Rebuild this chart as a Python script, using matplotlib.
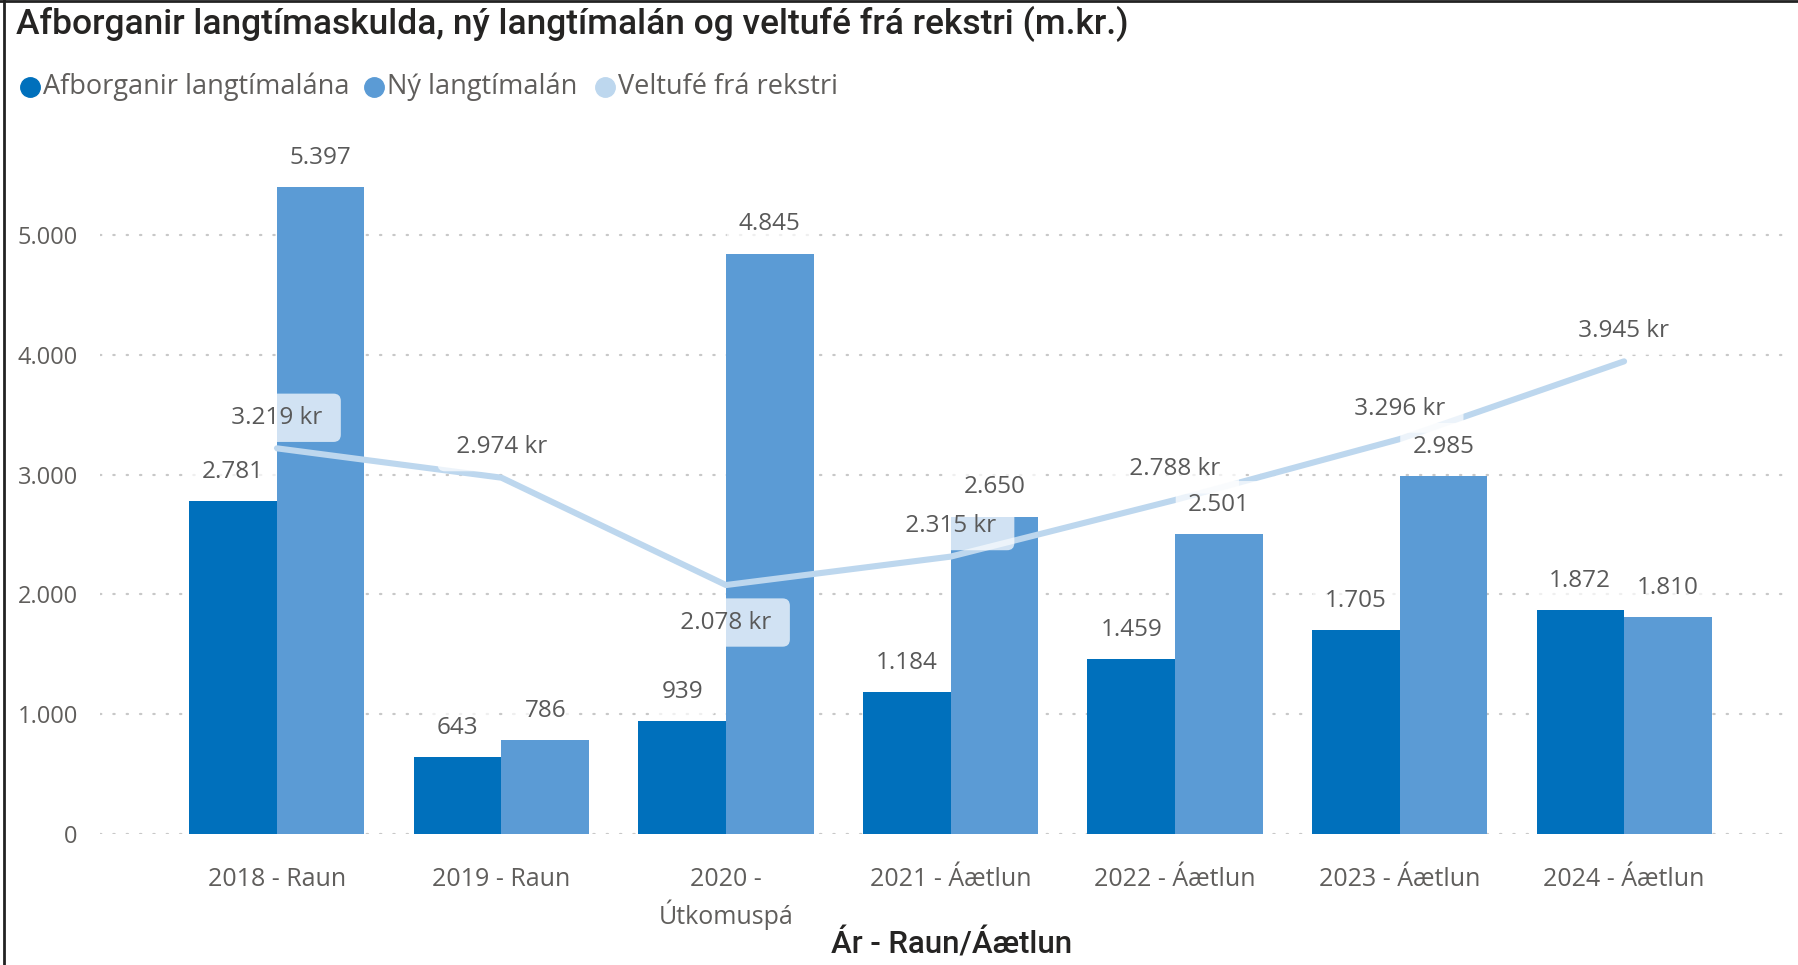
import matplotlib
matplotlib.use("Agg")
import matplotlib.pyplot as plt
from matplotlib import font_manager
from matplotlib.lines import Line2D
import numpy as np

categories = ["2018 - Raun", "2019 - Raun", "2020 -\nÚtkomuspá", "2021 - Áætlun",
              "2022 - Áætlun", "2023 - Áætlun", "2024 - Áætlun"]
afborganir = [2781, 643, 939, 1184, 1459, 1705, 1872]
ny_lan = [5397, 786, 4845, 2650, 2501, 2985, 1810]
veltufe = [3219, 2974, 2078, 2315, 2788, 3296, 3945]
series_names = ["Afborganir langtímalána", "Ný langtímalán", "Veltufé frá rekstri"]
yticks = [0, 1000, 2000, 3000, 4000, 5000]
title = "Afborganir langtímaskulda, ný langtímalán og veltufé frá rekstri (m.kr.)"
xlabel = "Ár - Raun/Áætlun"

c_dark = "#0070BC"
c_mid = "#5B9BD5"
c_light = "#BDD7EE"
c_text = "#605E5C"
c_label = "#595959"
c_title = "#252423"

installed = {f.name for f in font_manager.fontManager.ttflist}
body_font = "Open Sans" if "Open Sans" in installed else "DejaVu Sans"
head_font = "Roboto" if "Roboto" in installed else "DejaVu Sans"
plt.rcParams["font.family"] = [body_font, "DejaVu Sans"]


def fmt(v):
    return f"{v:,}".replace(",", ".")


W, H = 1798, 965
fig = plt.figure(figsize=(W / 100, H / 100), dpi=100)
# axes: left 100px, right 1790px, bottom (value 0) at 834px, top at 130px
ax = fig.add_axes([100 / W, 1 - 834 / H, 1690 / W, 704 / H])

x = np.arange(len(categories))
bw = 0.39
ax.bar(x - bw / 2, afborganir, bw, color=c_dark, zorder=2)
ax.bar(x + bw / 2, ny_lan, bw, color=c_mid, zorder=2)
ax.plot(x, veltufe, color=c_light, lw=4.4, solid_capstyle="round",
        solid_joinstyle="round", zorder=3)

ax.set_xlim(-0.788, 6.739)
ax.set_ylim(0, 5876)
ax.set_yticks(yticks)
ax.set_yticklabels([fmt(v) for v in yticks])
ax.set_xticks(x)
ax.set_xticklabels(categories, linespacing=1.3)
ax.tick_params(axis="both", length=0, labelsize=17, labelcolor=c_text)
ax.tick_params(axis="x", labelsize=18, pad=24)
ax.tick_params(axis="y", pad=16)
for s in ax.spines.values():
    s.set_visible(False)
for v in yticks:
    ax.axhline(v, color="#C8C8C8", lw=1.6, ls=(0, (0.6, 5.4)),
               dash_capstyle="round", zorder=1)

box = dict(boxstyle="round,pad=0.5,rounding_size=0.3", fc="white",
           ec="none", alpha=0.72)
lab = dict(textcoords="offset points", ha="center", fontsize=17.5,
           color=c_label, bbox=box, zorder=5)
for i in range(len(categories)):
    ax.annotate(fmt(afborganir[i]), (x[i] - bw / 2, afborganir[i]),
                xytext=(0, 21), va="center", **lab)
    ax.annotate(fmt(ny_lan[i]), (x[i] + bw / 2, ny_lan[i]),
                xytext=(0, 21), va="center", **lab)
for i in range(len(categories)):
    dy = -27 if i == 2 else 22
    ax.annotate(" " + fmt(veltufe[i]) + " kr ", (x[i], veltufe[i]),
                xytext=(0, dy), va="center", **lab)

# title, legend, axis title
fig.text(16 / W, 1 - 24 / H, title, fontsize=25.5, color=c_title,
         family=head_font, weight="medium", va="center", ha="left")

leg_x = [30, 374, 605]
for px, name, col in zip(leg_x, series_names, [c_dark, c_mid, c_light]):
    fig.add_artist(Line2D([px / W], [1 - 87 / H], marker="o", ms=14,
                          color=col, transform=fig.transFigure))
    fig.text((px + 13) / W, 1 - 87 / H, name, fontsize=19.5, color=c_text,
             va="center", ha="left")

fig.text(952 / W, 1 - 944 / H, xlabel, fontsize=22.5, color=c_title,
         family=head_font, weight="medium", va="center", ha="center")

# frame edges of the visual
fig.add_artist(Line2D([0, 1], [1 - 1 / H, 1 - 1 / H], color="#222222", lw=2,
                      transform=fig.transFigure))
fig.add_artist(Line2D([4 / W, 4 / W], [0, 1], color="#222222", lw=2,
                      transform=fig.transFigure))

fig.savefig("out.png", dpi=100, facecolor="white")
